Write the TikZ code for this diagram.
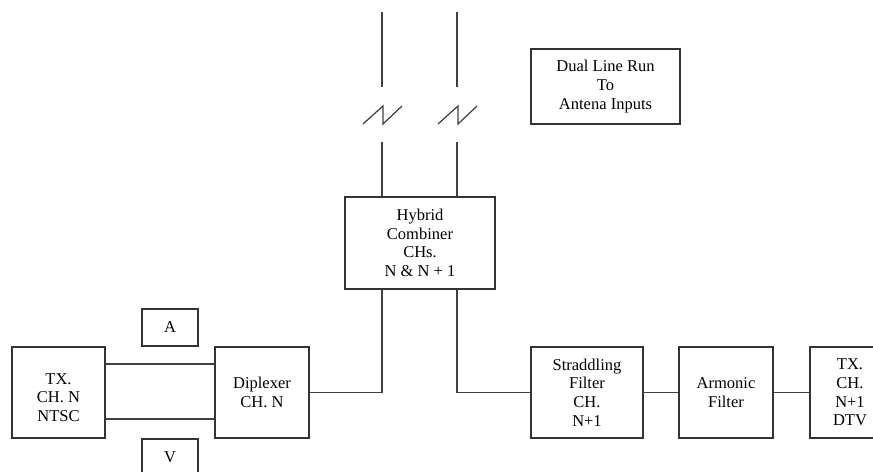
\documentclass[tikz,border=0pt]{standalone}
\usepackage{fontspec}
\setmainfont{Liberation Serif}
\usetikzlibrary{calc}
\begin{document}
\begin{tikzpicture}[x=0.02cm,y=-0.02cm,
    box/.style={draw=black!80,line width=0.7pt,align=center,inner sep=0pt,
      font=\fontsize{9.4}{10.6}\selectfont},
    wire/.style={draw=black!75,line width=0.7pt}]
  \useasboundingbox (0,0) rectangle (873,472);
    % blocks
    \node[box,minimum width=3cm,minimum height=1.84cm] (hyb) at (420,243) {Hybrid\\Combiner\\CHs.\\N \& N + 1};
    \node[box,minimum width=2.98cm,minimum height=1.5cm] (run) at (605.5,86.5) {Dual Line Run\\To\\Antena Inputs};
    \node[box,minimum width=1.86cm,minimum height=1.82cm] (txn) at (58.5,392.5) {\rule{0pt}{12pt}TX.\\CH. N\\NTSC};
    \node[box,minimum width=1.88cm,minimum height=1.82cm] (dip) at (262,392.5) {Diplexer\\CH. N};
    \node[box,minimum width=1.12cm,minimum height=0.74cm] (aud) at (170,327.5) {A};
    \node[box,minimum width=1.12cm,minimum height=0.72cm] (vid) at (170,457) {V};
    \node[box,minimum width=2.24cm,minimum height=1.82cm] (stf) at (587,392.5) {Straddling\\Filter\\CH.\\N+1};
    \node[box,minimum width=1.88cm,minimum height=1.82cm] (arm) at (726,392.5) {Armonic\\Filter};
    \node[box,minimum width=1.6cm,minimum height=1.82cm] (txd) at (850,392.5) {TX.\\CH.\\N+1\\DTV};
    % feed lines with breaks
    \coordinate (la) at (382,12); \coordinate (lb) at (457,12);
    \foreach \l in {la,lb} {
      \draw[wire] (\l) -- ++(0,75);
      \draw[wire] ($(\l)+(-19,112)$) -- ++(20,-18) -- ++(0,18) -- ++(19,-18);
      \draw[wire] ($(\l)+(0,130)$) -- (\l |- hyb.north);
    }
    % connections
    \draw[wire] (la |- hyb.south) |- (dip.east);
    \draw[wire] (lb |- hyb.south) |- (stf.west);
    \draw[wire] (txn.east |- 0,364) -- (dip.west |- 0,364);
    \draw[wire] (txn.east |- 0,419) -- (dip.west |- 0,419);
    \draw[wire] (stf) -- (arm);
    \draw[wire] (arm) -- (txd);
  \end{tikzpicture}
\end{document}
